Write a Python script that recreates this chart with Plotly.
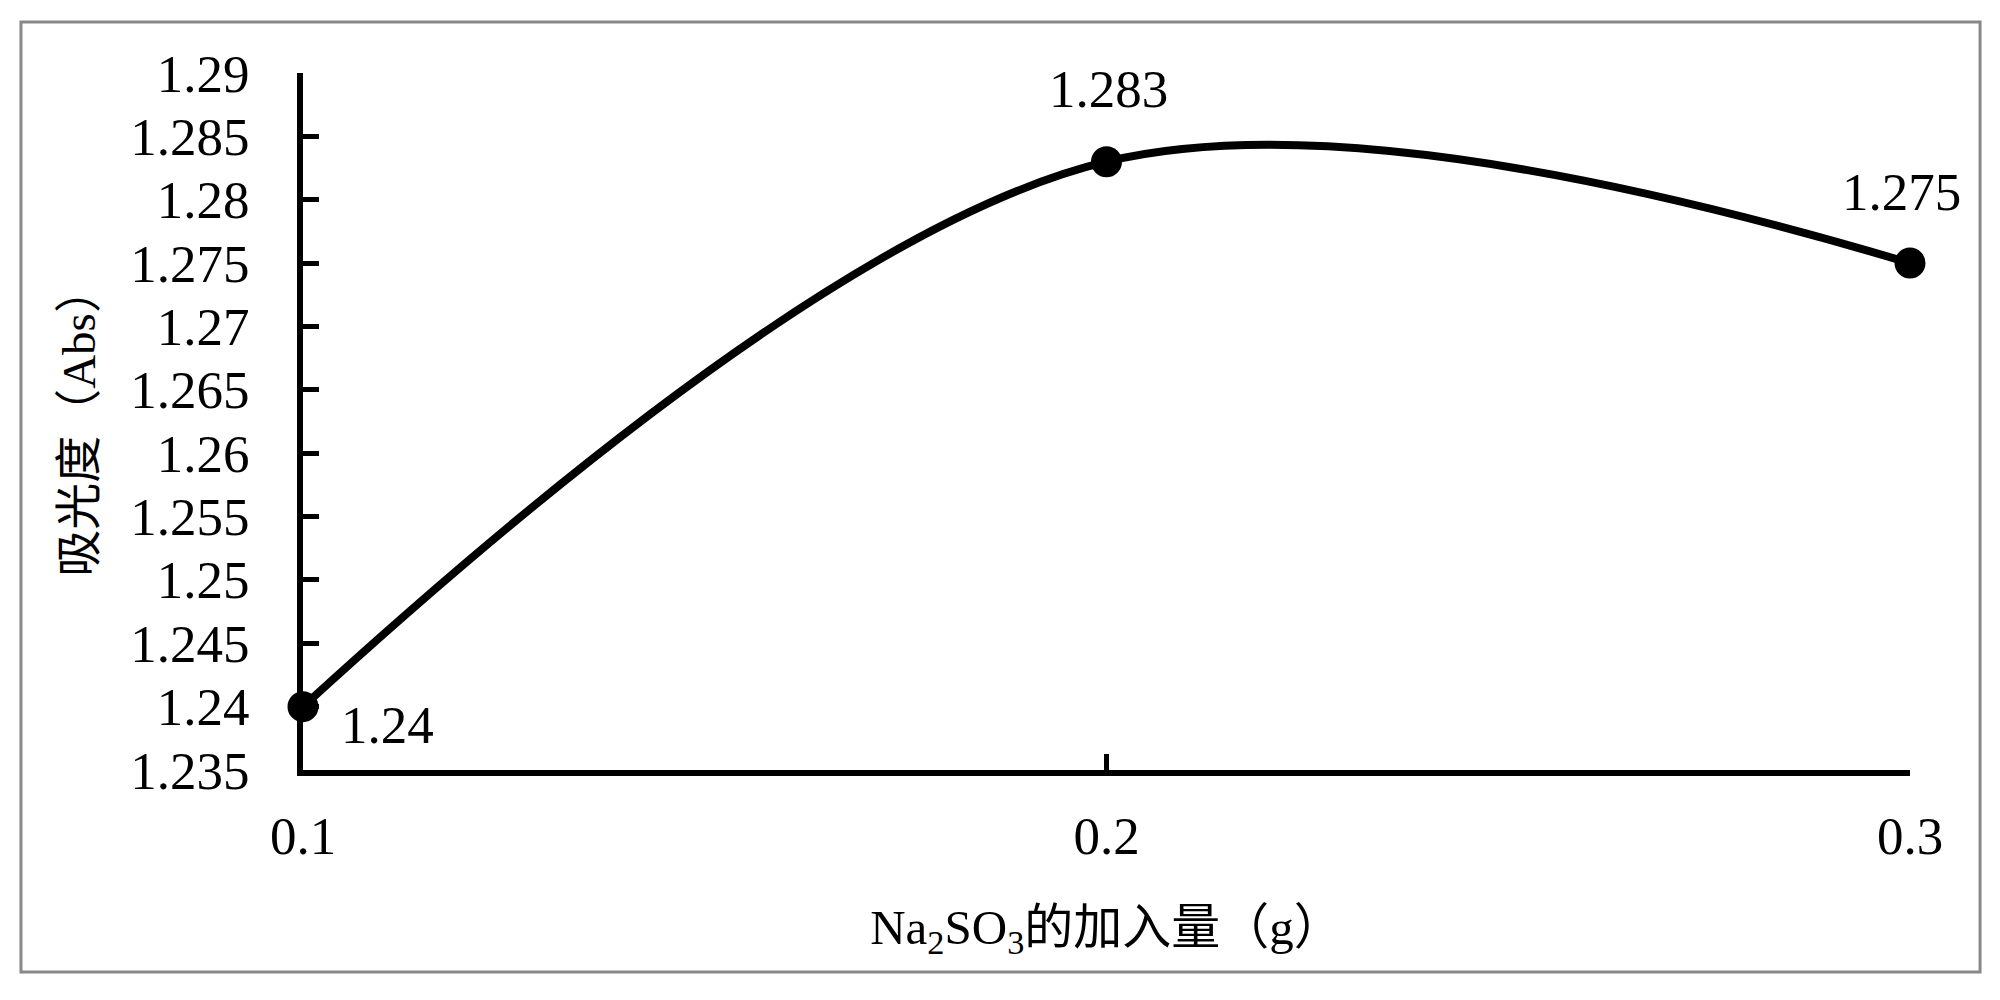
import plotly.graph_objects as go

# Data
x_vals = [0.1, 0.2, 0.3]
y_vals = [1.24, 1.283, 1.275]
point_labels = ["1.24", "1.283", "1.275"]
y_tickvals = [1.235, 1.24, 1.245, 1.25, 1.255, 1.26, 1.265, 1.27, 1.275, 1.28, 1.285, 1.29]
y_ticktext = ["1.235", "1.24", "1.245", "1.25", "1.255", "1.26", "1.265", "1.27", "1.275", "1.28", "1.285", "1.29"]
x_tickvals = [0.1, 0.2, 0.3]
x_ticktext = ["0.1", "0.2", "0.3"]
x_title = "Na<sub>2</sub>SO<sub>3</sub>的加入量（g）"
y_title = "吸光度（Abs）"

FONT = "Liberation Serif, Times New Roman, Noto Sans CJK SC, serif"
FS = 53

fig = go.Figure()
fig.add_trace(go.Scatter(
    x=x_vals, y=y_vals,
    mode="lines+markers",
    line=dict(color="black", width=8, shape="spline", smoothing=1.0),
    marker=dict(color="black", size=31),
    cliponaxis=False,
    showlegend=False,
))

# data labels (offsets in pixels)
label_offsets = [(84, -18), (2, 73), (-9, 71)]
for xv, yv, txt, (dx, dy) in zip(x_vals, y_vals, point_labels, label_offsets):
    fig.add_annotation(x=xv, y=yv, text=txt, showarrow=False,
                       xshift=dx, yshift=dy, xanchor="center", yanchor="middle",
                       font=dict(family=FONT, size=FS, color="black"))

fig.update_layout(
    width=1990, height=990,
    margin=dict(l=295, r=88, t=65, b=228),
    paper_bgcolor="white", plot_bgcolor="white",
    font=dict(family=FONT, size=FS, color="black"),
    shapes=[dict(type="rect", xref="paper", yref="paper",
                 x0=-0.1755, x1=1.0436, y0=-0.2898, y1=1.0732,
                 line=dict(color="#888888", width=3), layer="below")],
)
fig.update_xaxes(
    range=[0.1, 0.3], tickvals=x_tickvals, ticktext=x_ticktext,
    showline=True, linecolor="black", linewidth=6,
    ticks="inside", ticklen=16, tickwidth=5, tickcolor="black",
    showgrid=False, zeroline=False, ticklabelstandoff=14,
    tickfont=dict(family=FONT, size=FS),
    title=dict(text=x_title, font=dict(family=FONT, size=49, color="black"), standoff=48),
)
fig.update_yaxes(
    range=[1.235, 1.29], tickvals=y_tickvals, ticktext=y_ticktext,
    showline=True, linecolor="black", linewidth=6,
    ticks="inside", ticklen=16, tickwidth=5, tickcolor="black",
    showgrid=False, zeroline=False, ticklabelstandoff=37,
    tickfont=dict(family=FONT, size=FS),
    title=dict(text=y_title, font=dict(family=FONT, size=47, color="black"), standoff=22),
)

fig.write_html("out.html")
